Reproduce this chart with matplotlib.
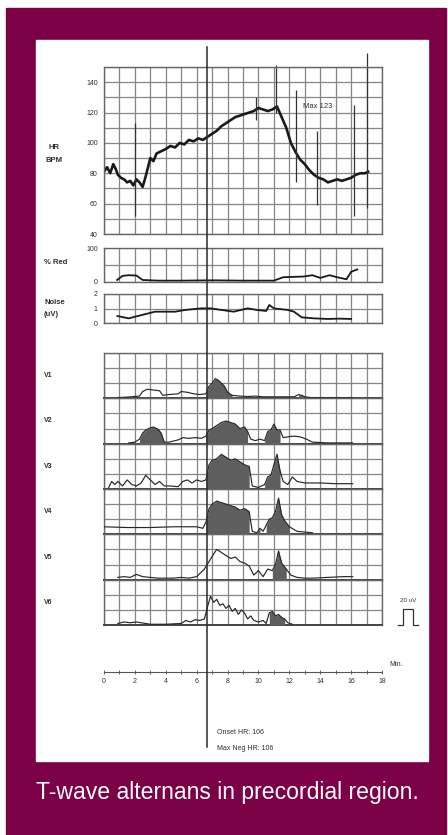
import numpy as np
import matplotlib
import matplotlib.pyplot as plt
from matplotlib.patches import Rectangle
from matplotlib.lines import Line2D
from matplotlib import transforms

plt.rcParams['font.family'] = ['Liberation Sans', 'DejaVu Sans']

# heart rate trend (min, bpm)
hr_t = [0.0, 0.2, 0.4, 0.6, 0.75, 0.9, 1.1, 1.3, 1.5, 1.7, 1.9, 2.1, 2.3, 2.5, 2.7, 2.85, 3.0,
        3.2, 3.4, 3.6, 3.8, 4.0,
        4.3, 4.6, 4.9, 5.2, 5.5, 5.8, 6.1, 6.4, 6.7, 7.0, 7.3, 7.6, 7.9, 8.2, 8.5, 8.8, 9.1,
        9.4, 9.7, 10.0, 10.3, 10.6, 10.9, 11.2, 11.5, 11.8, 12.1, 12.4, 12.7, 13.0, 13.3, 13.6,
        13.9, 14.2, 14.5, 14.8, 15.1, 15.4, 15.7, 16.0, 16.3, 16.6, 16.9, 17.1]
hr_bpm = [81, 84, 80, 86, 83, 79, 77, 76, 74, 75, 72, 76, 74, 71, 78, 84, 90,
          88, 93, 94, 95, 96,
          98, 97, 100, 99, 102, 101, 103, 102, 104, 106, 108, 111, 113, 115, 117, 118, 119,
          120, 121, 123, 122, 121, 122, 124, 117, 110, 100, 94, 89, 86, 82, 79,
          77, 76, 74, 75, 76, 75, 76, 77, 79, 80, 80, 81]
# artefact spikes on the HR trace
spike_t = [2.0, 9.85, 11.15, 12.4, 13.8, 16.2, 17.0]
spike_lo = [52, 115, 120, 74, 59, 52, 57]
spike_hi = [113, 130, 151, 135, 108, 125, 159]

# percent rejected beats
red_t = [0.85, 1.2, 1.6, 2.1, 2.5, 3.5, 5.0, 7.0, 9.0, 11.0, 11.6, 12.2, 12.9, 13.5, 14.0, 14.6, 15.1, 15.7, 16.0, 16.4]
red_pct = [6, 18, 20, 19, 6, 4, 4, 5, 4, 4, 14, 15, 16, 20, 12, 20, 14, 8, 30, 37]

# noise level (uV)
noise_t = [0.87, 1.6, 2.45, 3.3, 4.6, 5.25, 6.3, 6.9, 7.6, 8.4, 9.3, 9.9, 10.5, 10.7, 11.0,
           11.9, 12.3, 12.8, 13.6, 14.5, 15.2, 16.0]
noise_uv = [0.48, 0.32, 0.55, 0.78, 0.78, 0.9, 1.01, 1.01, 0.9, 0.78, 1.01, 0.9, 0.83, 1.24, 1.01,
            0.9, 0.78, 0.39, 0.32, 0.28, 0.3, 0.28]

# alternans magnitude per precordial lead (row units)
v1_t = [0.9, 1.5, 2.3, 2.5, 2.8, 3.2, 3.6, 3.8, 4.2, 4.8, 5.0, 5.4, 5.8, 6.2, 6.6, 6.8, 7.0, 7.2,
        7.4, 7.6, 7.8, 8.0, 8.3, 8.8, 9.3, 9.8, 10.3, 11.0, 11.5, 12.3, 12.6, 12.8, 13.0, 13.4,
        14.0, 15.0, 16.1]
v1 = [0.05, 0.08, 0.15, 0.45, 0.6, 0.55, 0.5, 0.2, 0.25, 0.3, 0.45, 0.4, 0.3, 0.25, 0.3, 0.8,
      1.0, 1.3, 1.2, 1.0, 0.8, 0.4, 0.2, 0.15, 0.12, 0.15, 0.1, 0.1, 0.1, 0.1, 0.25, 0.2, 0.1,
      0.05, 0.05, 0.05, 0.05]
v1_fill = [(6.6, 8.3), (12.4, 13.0)]

v2_t = [1.6, 2.0, 2.3, 2.5, 2.7, 3.0, 3.2, 3.5, 3.7, 3.9, 4.2, 4.8, 5.1, 5.5, 5.9, 6.3, 6.6, 6.8,
        7.0, 7.3, 7.6, 7.9, 8.2, 8.5, 8.8, 9.1, 9.3, 9.5, 9.8, 10.1, 10.4, 10.6, 10.8, 11.0, 11.2,
        11.4, 11.6, 11.9, 12.3, 12.7, 13.1, 13.5, 14.5, 16.1]
v2 = [0.05, 0.1, 0.3, 0.7, 0.9, 1.05, 1.1, 0.95, 0.7, 0.1, 0.1, 0.25, 0.4, 0.35, 0.4, 0.35, 0.5,
      0.9, 1.0, 1.2, 1.4, 1.5, 1.4, 1.3, 1.0, 1.1, 0.8, 0.3, 0.2, 0.3, 0.2, 0.8, 0.9, 1.3, 0.9,
      0.9, 0.4, 0.45, 0.5, 0.45, 0.3, 0.1, 0.05, 0.05]
v2_fill = [(2.3, 3.9), (6.6, 9.4), (10.4, 11.5)]

v3_t = [0.3, 0.5, 0.7, 0.9, 1.2, 1.5, 1.8, 2.1, 2.4, 2.7, 3.0, 3.3, 3.6, 3.9, 4.3, 4.8, 5.1, 5.4,
        5.7, 6.0, 6.3, 6.6, 6.8, 7.0, 7.3, 7.6, 7.9, 8.2, 8.5, 8.8, 9.1, 9.4, 9.6, 10.0, 10.4,
        10.6, 10.8, 11.0, 11.2, 11.4, 11.6, 11.9, 12.2, 12.5, 13.0, 14.0, 15.0, 16.1]
v3 = [0.1, 0.5, 0.3, 0.5, 0.2, 0.6, 0.3, 0.2, 0.4, 0.9, 0.6, 0.3, 0.5, 0.2, 0.2, 0.15, 0.5, 0.6,
      0.4, 0.6, 0.5, 0.6, 1.6, 1.9, 2.0, 2.3, 2.1, 1.9, 2.0, 1.8, 1.6, 1.5, 0.2, 0.1, 0.3, 0.8,
      0.9, 1.6, 2.3, 1.2, 0.5, 0.3, 0.8, 0.5, 0.4, 0.4, 0.35, 0.35]
v3_fill = [(6.6, 9.5), (10.4, 11.5)]

v4_t = [0.0, 1.5, 3.0, 4.5, 6.0, 6.4, 6.6, 6.8, 7.0, 7.3, 7.6, 7.9, 8.2, 8.5, 8.8, 9.1, 9.4, 9.6,
        9.9, 10.1, 10.3, 10.5, 10.7, 10.9, 11.1, 11.3, 11.5, 11.7, 12.0, 12.5, 13.5]
v4 = [0.5, 0.45, 0.45, 0.5, 0.5, 0.4, 0.8, 1.7, 2.0, 2.2, 2.1, 2.0, 1.9, 1.8, 1.6, 1.7, 1.5, 0.2,
      0.1, 0.4, 0.2, 0.6, 1.0, 1.1, 1.5, 2.4, 1.3, 0.9, 0.5, 0.2, 0.1]
v4_fill = [(6.5, 9.5), (9.9, 10.2), (10.5, 12.0)]

v5_t = [0.9, 1.3, 1.7, 2.1, 2.5, 3.0, 3.5, 4.0, 4.5, 5.0, 5.5, 6.0, 6.5, 6.8, 7.1, 7.3, 7.6, 7.9,
        8.2, 8.5, 8.8, 9.1, 9.4, 9.7, 10.0, 10.3, 10.6, 10.9, 11.1, 11.3, 11.5, 11.8, 12.1, 12.5,
        13.0, 13.5, 14.5, 15.5, 16.1]
v5 = [0.15, 0.2, 0.15, 0.35, 0.2, 0.15, 0.1, 0.1, 0.1, 0.15, 0.1, 0.2, 0.7, 1.2, 1.7, 2.0, 1.8,
      1.6, 1.4, 1.5, 1.2, 1.1, 0.9, 0.3, 0.6, 0.2, 0.7, 0.6, 1.0, 1.9, 1.1, 0.7, 0.3, 0.15, 0.1,
      0.1, 0.15, 0.2, 0.2]
v5_fill = [(9.9, 10.2), (10.9, 11.8)]

v6_t = [0.9, 1.3, 1.7, 2.1, 3.0, 4.0, 5.0, 5.3, 5.6, 5.9, 6.2, 6.5, 6.7, 6.9, 7.1, 7.3, 7.5, 7.7,
        7.9, 8.1, 8.3, 8.5, 8.7, 8.9, 9.1, 9.3, 9.5, 9.7, 10.0, 10.3, 10.5, 10.7, 10.9, 11.1, 11.3,
        11.5, 11.7, 11.9, 12.2]
v6 = [0.1, 0.2, 0.15, 0.2, 0.05, 0.05, 0.1, 0.3, 0.2, 0.35, 0.3, 0.4, 1.2, 1.9, 1.5, 1.7, 1.3,
      1.4, 1.1, 1.3, 0.9, 1.1, 0.7, 1.0, 0.8, 0.4, 0.6, 0.3, 0.2, 0.3, 0.1, 0.8, 0.9, 0.6, 0.7,
      0.5, 0.4, 0.15, 0.05]
v6_fill = [(10.6, 11.8)]

lead_names = ['V1', 'V2', 'V3', 'V4', 'V5', 'V6']
lead_t = [v1_t, v2_t, v3_t, v4_t, v5_t, v6_t]
lead_v = [v1, v2, v3, v4, v5, v6]
lead_fill = [v1_fill, v2_fill, v3_fill, v4_fill, v5_fill, v6_fill]

onset_t = 6.7
max_hr = 123
onset_hr = 106
max_neg_hr = 106
x_ticks = list(range(0, 19, 2))

W, H = 448, 835
MAROON = '#7b0046'
GRID = '#858585'
INK = '#1a1a1a'
TXT = '#2e2e2e'

fig = plt.figure(figsize=(W / 100, H / 100), dpi=100)


def box(l, t, r, b):
    return [l / W, 1 - b / H, (r - l) / W, (b - t) / H]


fig.patches.append(Rectangle((6 / W, 0), 440 / W, 1 - 8 / H, transform=fig.transFigure,
                             color=MAROON, zorder=-10))
fig.patches.append(Rectangle((36 / W, 1 - 761 / H), 392 / W, 721 / H, transform=fig.transFigure,
                             color='white', zorder=-9))


def grid_axes(rect, ylim, ystep, labels=None):
    ax = fig.add_axes(rect)
    ax.set_xlim(0, 18)
    ax.set_ylim(*ylim)
    ax.set_xticks(np.arange(0, 19, 1))
    ax.set_yticks(np.arange(ylim[0], ylim[1] + 1e-6, ystep), minor=True)
    if labels:
        ax.set_yticks(labels)
    else:
        ax.set_yticks([])
    ax.grid(True, which='both', color=GRID, lw=0.9)
    ax.tick_params(which='both', length=0, labelbottom=False, labelsize=5, pad=4.5,
                   labelcolor=TXT)
    for s in ax.spines.values():
        s.set_color('#666666')
        s.set_linewidth(1)
    ax.set_facecolor('none')
    return ax


# HR panel
ax_hr = grid_axes(box(104, 67, 382, 234), (40, 150), 10, labels=[40, 60, 80, 100, 120, 140])
ax_hr.plot(hr_t, hr_bpm, color=INK, lw=1.9)
ax_hr.vlines(spike_t, spike_lo, spike_hi, color='#333333', lw=0.9, clip_on=False)
ax_hr.text(12.9, 124, f'Max {max_hr}', fontsize=5.5, color=TXT, va='center')
fig.text(54 / W, 1 - 154 / H, 'HR\nBPM', fontsize=5.5, color=TXT, ha='center', va='center',
         linespacing=2.2, fontweight='bold')

# % rejected panel
ax_red = grid_axes(box(104, 248, 382, 282), (0, 100), 50, labels=[0, 100])
ax_red.plot(red_t, red_pct, color=INK, lw=1.3)
fig.text(44 / W, 1 - 263 / H, '% Red', fontsize=5.5, color=TXT, va='center', fontweight='bold')

# noise panel
ax_nz = grid_axes(box(104, 294, 382, 323), (0, 2), 1, labels=[0, 1, 2])
ax_nz.plot(noise_t, noise_uv, color=INK, lw=1.3)
fig.text(44 / W, 1 - 309 / H, 'Noise\n(uV)', fontsize=5.5, color=TXT, va='center',
         linespacing=2.0, fontweight='bold')

# precordial leads
row_h = (625 - 353) / 6
for i, name in enumerate(lead_names):
    top = 353 + i * row_h
    ax = grid_axes(box(104, top, 382, top + row_h), (0, 3), 1)
    ax.spines['bottom'].set_color('#444444')
    ax.spines['bottom'].set_linewidth(1.4)
    t = np.array(lead_t[i])
    v = np.array(lead_v[i])
    for x0, x1 in lead_fill[i]:
        m = (t >= x0) & (t <= x1)
        ax.fill_between(t, v, 0, where=m, color='#5e5e5e', lw=0, zorder=3)
    ax.plot(t, v, color='#262626', lw=0.85, zorder=4)
    ax.text(-0.215, 0.5, name, transform=ax.transAxes, fontsize=5, color=TXT, va='center',
            fontweight='bold')

# time axis
ax_x = fig.add_axes(box(104, 671, 382, 672))
ax_x.set_xlim(0, 18)
ax_x.set_ylim(0, 1)
ax_x.set_yticks([])
ax_x.set_xticks(x_ticks)
ax_x.set_xticks(range(0, 19), minor=True)
ax_x.tick_params(which='both', direction='inout', length=3, width=0.7, color='#666666',
                 labelsize=5, labelcolor=TXT, pad=3)
for k in ['top', 'left', 'right']:
    ax_x.spines[k].set_visible(False)
ax_x.spines['bottom'].set_color('#555555')
ax_x.set_facecolor('none')
fig.text(389 / W, 1 - 665 / H, 'Min.', fontsize=5, color=TXT, va='center')

# onset marker across all panels
tr = transforms.blended_transform_factory(ax_hr.transData, fig.transFigure)
fig.lines.append(Line2D([onset_t, onset_t], [1 - 47 / H, 1 - 747 / H], transform=tr,
                        color='#2a2a2a', lw=1.1, zorder=10))
fig.text(217 / W, 1 - 733 / H, f'Onset HR: {onset_hr}', fontsize=5, color=TXT, va='center')
fig.text(217 / W, 1 - 748 / H, f'Max Neg HR: {max_neg_hr}', fontsize=5, color=TXT, va='center')

# amplitude scale pulse
fig.lines.append(Line2D(np.array([398, 403, 403, 413, 413, 418]) / W,
                        1 - np.array([625, 625, 609, 609, 625, 625]) / H,
                        transform=fig.transFigure, color='#333333', lw=0.9))
fig.text(408 / W, 1 - 601 / H, '20 uV', fontsize=4.5, color=TXT, ha='center', va='center')

fig.text(36 / W, 1 - 793 / H, 'T-wave alternans in precordial region.', color='white',
         fontsize=16.6, va='center')

fig.savefig('out.png', dpi=100)
